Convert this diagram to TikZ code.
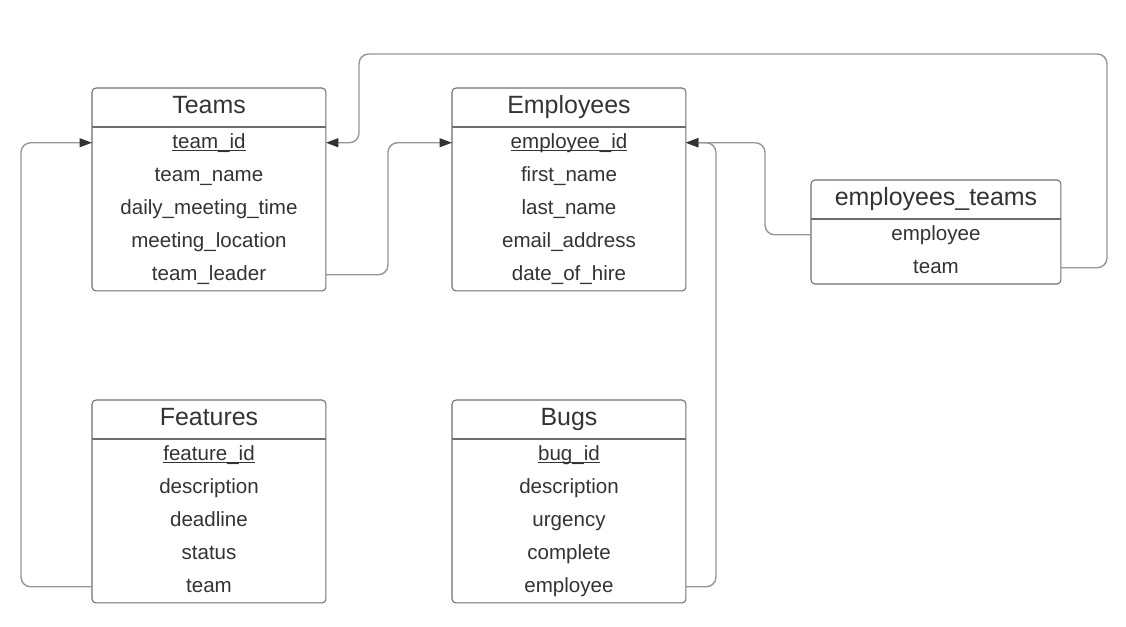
\documentclass[tikz,border=0pt]{standalone}
\usepackage{fontspec}
\setmainfont{Liberation Sans}
\usepackage{xcolor}
\usepackage{tikz}
\usetikzlibrary{arrows.meta}
\definecolor{textgray}{RGB}{51, 51, 51}
\definecolor{boxgray}{RGB}{110, 110, 110}
\definecolor{linkgray}{RGB}{150, 150, 150}
\definecolor{tipgray}{RGB}{50, 50, 50}
\newcommand{\keyfield}[1]{\underline{\smash{#1}}}

\begin{document}
\begin{tikzpicture}[
        x=0.02cm, y=-0.02cm,
        table/.style={rectangle, draw=boxgray, line width=0.6pt, rounded corners=2.3pt, inner sep=0pt, outer sep=0pt, anchor=north west, minimum width=4.68cm, minimum height=4.06cm},
        divider/.style={draw=boxgray, line width=0.6pt},
        title/.style={anchor=base, inner sep=0pt, text=textgray, font=\fontsize{14.2}{16}\selectfont},
        field/.style={anchor=base, inner sep=0pt, text height=8pt, text depth=2pt, text=textgray, font=\fontsize{11.7}{14}\selectfont},
        link/.style={draw=linkgray, line width=0.8pt},
        tip/.style={-{Triangle[length=7pt, width=5pt, fill=tipgray, color=tipgray]}}
    ]
    \useasboundingbox (0,0) rectangle (1126,626);

    % Teams
    \node[table] (teams) at (92,88) {};
    \draw[divider] (92,127) -- (326,127);
    \node[title] (teams-title) at (209,113) {Teams};
    \node[field] (teams-id) at (209,148) {\keyfield{team\_id}};
    \node[field] (teams-name) at (209,181) {team\_name};
    \node[field] (teams-time) at (209,214) {daily\_meeting\_time};
    \node[field] (teams-loc) at (209,247) {meeting\_location};
    \node[field] (teams-leader) at (209,280) {team\_leader};

    % Employees
    \node[table] (emp) at (452,88) {};
    \draw[divider] (452,127) -- (686,127);
    \node[title] (emp-title) at (569,113) {Employees};
    \node[field] (emp-id) at (569,148) {\keyfield{employee\_id}};
    \node[field] (emp-first) at (569,181) {first\_name};
    \node[field] (emp-last) at (569,214) {last\_name};
    \node[field] (emp-mail) at (569,247) {email\_address};
    \node[field] (emp-hire) at (569,280) {date\_of\_hire};

    % employees_teams
    \node[table, minimum width=5cm, minimum height=2.08cm] (et) at (811,180) {};
    \draw[divider] (811,219) -- (1061,219);
    \node[title] (et-title) at (936,205) {employees\_teams};
    \node[field] (et-emp) at (936,240) {employee};
    \node[field] (et-team) at (936,273) {team};

    % Features
    \node[table] (feat) at (92,400) {};
    \draw[divider] (92,439) -- (326,439);
    \node[title] (feat-title) at (209,425) {Features};
    \node[field] (feat-id) at (209,460) {\keyfield{feature\_id}};
    \node[field] (feat-desc) at (209,493) {description};
    \node[field] (feat-dead) at (209,526) {deadline};
    \node[field] (feat-status) at (209,559) {status};
    \node[field] (feat-team) at (209,592) {team};

    % Bugs
    \node[table] (bugs) at (452,400) {};
    \draw[divider] (452,439) -- (686,439);
    \node[title] (bugs-title) at (569,425) {Bugs};
    \node[field] (bugs-id) at (569,460) {\keyfield{bug\_id}};
    \node[field] (bugs-desc) at (569,493) {description};
    \node[field] (bugs-urg) at (569,526) {urgency};
    \node[field] (bugs-done) at (569,559) {complete};
    \node[field] (bugs-emp) at (569,592) {employee};

    % Foreign keys
    \coordinate (topturn) at (359,54);
    \draw[link, tip] (feat-team.center -| feat.west) [rounded corners=5.5pt] -- ++(-71,0) |- (teams-id.center -| teams.west);
    \draw[link, tip] (teams-leader.center -| teams.east) [rounded corners=5.5pt] -- ++(62,0) |- (emp-id.center -| emp.west);
    \draw[link, tip] (bugs-emp.center -| bugs.east) [rounded corners=5.5pt] -- ++(30,0) |- (emp-id.center -| emp.east);
    \draw[link, tip] (et-emp.center -| et.west) [rounded corners=5.5pt] -- ++(-46,0) |- (emp-id.center -| emp.east);
    \draw[link, tip] (et-team.center -| et.east) [rounded corners=5.5pt] -- ++(46,0) |- (topturn) |- (teams-id.center -| teams.east);

\end{tikzpicture}
\end{document}
